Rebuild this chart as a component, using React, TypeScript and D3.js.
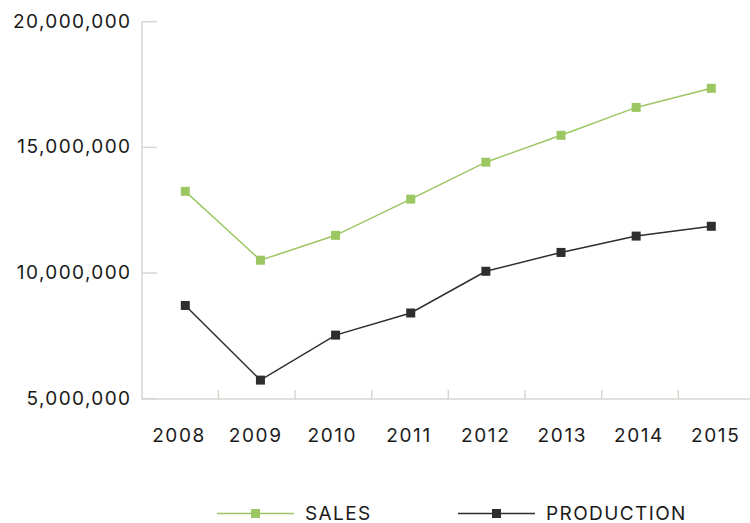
import React from "react";
import * as d3 from "d3";

const years = ["2008", "2009", "2010", "2011", "2012", "2013", "2014", "2015"];
const sales = [13.25e6, 10.51e6, 11.5e6, 12.94e6, 14.41e6, 15.48e6, 16.59e6, 17.35e6];
const production = [8.71e6, 5.74e6, 7.53e6, 8.41e6, 10.07e6, 10.82e6, 11.47e6, 11.86e6];
const yTicks = [5e6, 10e6, 15e6, 20e6];

const W = 750;
const H = 523;
const FONT = "Inter, 'Noto Sans', sans-serif";
const GREEN = "#9bc763";
const DARK = "#2e2e2e";
const AXIS = "#d8d5d1";

export default function App() {
  const y = d3.scaleLinear().domain([5e6, 20e6]).range([398.7, 21.7]);
  const xBand = d3.scaleBand<string>().domain(years).range([141.7, 755]);
  const xPt = d3.scalePoint<string>().domain(years).range([185.3, 711.3]);
  const fmt = d3.format(",");
  const line = d3
    .line<number>()
    .x((_, i) => xPt(years[i]) as number)
    .y((d) => y(d));

  const series = [
    { name: "SALES", values: sales, color: GREEN },
    { name: "PRODUCTION", values: production, color: DARK },
  ];
  const legendX = [217, 458];
  const ms = 9;

  return (
    <svg
      width={W}
      height={H}
      style={{ position: "absolute", left: 0, top: 0, background: "#fff" }}
      fontFamily={FONT}
    >
      {/* y axis */}
      <line x1={142} x2={142} y1={21.7} y2={399} stroke={AXIS} strokeWidth={1.5} />
      {yTicks.map((t) => (
        <g key={t}>
          <line x1={142} x2={157} y1={y(t)} y2={y(t)} stroke={AXIS} strokeWidth={1.5} />
          <text
            x={131.5}
            y={y(t)}
            dy="0.32em"
            textAnchor="end"
            fontSize={19}
            letterSpacing={1.4}
            fill="#1a1a1a"
          >
            {fmt(t)}
          </text>
        </g>
      ))}
      {/* x axis */}
      <line x1={141.3} x2={W} y1={399} y2={399} stroke={AXIS} strokeWidth={1.5} />
      {years.slice(1).map((yr) => (
        <line
          key={yr}
          x1={xBand(yr) as number}
          x2={xBand(yr) as number}
          y1={390}
          y2={399}
          stroke={AXIS}
          strokeWidth={1.5}
        />
      ))}
      {years.map((yr) => (
        <text
          key={yr}
          x={(xBand(yr) as number) + xBand.bandwidth() / 2 - 1}
          y={442}
          textAnchor="middle"
          fontSize={19}
          letterSpacing={1.6}
          fill="#1a1a1a"
        >
          {yr}
        </text>
      ))}
      {/* series */}
      {series.map((s) => (
        <g key={s.name}>
          <path d={line(s.values) as string} fill="none" stroke={s.color} strokeWidth={1.5} />
          {s.values.map((v, i) => (
            <rect
              key={i}
              x={(xPt(years[i]) as number) - ms / 2}
              y={y(v) - ms / 2}
              width={ms}
              height={ms}
              fill={s.color}
            />
          ))}
        </g>
      ))}
      {/* legend */}
      {series.map((s, i) => (
        <g key={s.name} transform={`translate(${legendX[i]},513.5)`}>
          <line x1={0} x2={77} y1={0} y2={0} stroke={s.color} strokeWidth={1.5} />
          <rect x={38.5 - ms / 2} y={-ms / 2} width={ms} height={ms} fill={s.color} />
          <text x={88} y={0} dy="0.36em" fontSize={19} letterSpacing={1.4} fill="#1a1a1a">
            {s.name}
          </text>
        </g>
      ))}
    </svg>
  );
}
